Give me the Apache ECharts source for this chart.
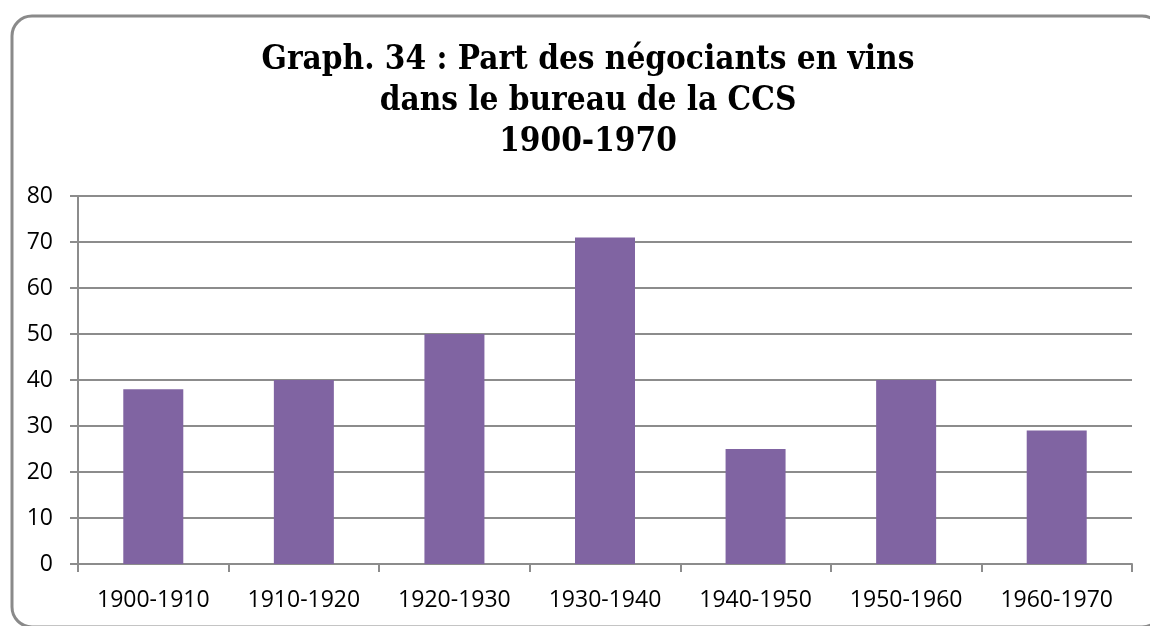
<!DOCTYPE html>
<html>
<head>
<meta charset="utf-8">
<script src="https://cdn.jsdelivr.net/npm/echarts@6/dist/echarts.min.js"></script>
<style>
  html, body { margin: 0; padding: 0; background: #fff; }
  #chart { width: 1150px; height: 626px; }
</style>
</head>
<body>
<div id="chart"></div>
<script>
// Décennies et part des négociants en vins (%)
const periods = ['1900-1910', '1910-1920', '1920-1930', '1930-1940', '1940-1950', '1950-1960', '1960-1970'];
const shares = [38, 40, 50, 71, 25, 40, 29];
const titleLines = ['Graph. 34 : Part des négociants en vins', 'dans le bureau de la CCS', '1900-1970'];

const chart = echarts.init(document.getElementById('chart'), null, { renderer: 'canvas' });

chart.setOption({
  animation: false,
  backgroundColor: '#fff',
  graphic: [{
    type: 'rect',
    left: 9.5,
    top: 13.5,
    shape: { width: 1150, height: 611, r: 20 },
    style: { fill: 'none', stroke: '#8a8a8a', lineWidth: 3 },
    z: 0
  }],
  title: {
    text: titleLines.join('\n'),
    left: 583,
    top: 35,
    textAlign: 'center',
    textStyle: {
      fontFamily: 'DejaVu Serif Condensed',
      fontWeight: 'bold',
      fontSize: 33,
      lineHeight: 41,
      color: '#000'
    }
  },
  grid: { left: 78, right: 18, top: 196, bottom: 62, containLabel: false },
  xAxis: {
    type: 'category',
    data: periods,
    axisLine: { lineStyle: { color: '#8c8c8c', width: 2 } },
    axisTick: { show: true, length: 8, lineStyle: { color: '#8c8c8c', width: 2 } },
    axisLabel: { color: '#000', fontFamily: 'Open Sans', fontSize: 23, margin: 25 }
  },
  yAxis: {
    type: 'value',
    min: 0,
    max: 80,
    interval: 10,
    axisLine: { show: true, lineStyle: { color: '#8c8c8c', width: 2 } },
    axisTick: { show: true, length: 8, lineStyle: { color: '#8c8c8c', width: 2 } },
    splitLine: { lineStyle: { color: '#8c8c8c', width: 2 } },
    axisLabel: { color: '#000', fontFamily: 'Open Sans', fontSize: 23, margin: 25 }
  },
  series: [{
    type: 'bar',
    data: shares,
    barWidth: 60,
    itemStyle: { color: '#8064A2' }
  }]
});
</script>
</body>
</html>
